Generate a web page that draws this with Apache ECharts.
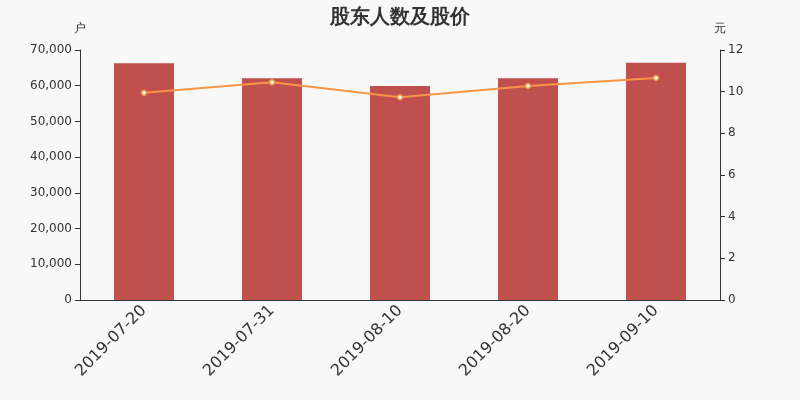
<!DOCTYPE html>
<html><head><meta charset="utf-8">
<script src="https://cdn.jsdelivr.net/npm/echarts@6/dist/echarts.min.js"></script>
<style>html,body{margin:0;padding:0;background:#f8f8f8;}#c{width:800px;height:400px;}</style>
</head><body><div id="c"></div>
<script>
const categories = ['2019-07-20','2019-07-31','2019-08-10','2019-08-20','2019-09-10'];
const holders = [66300, 62100, 59900, 62100, 66400];
const prices = [9.95, 10.45, 9.73, 10.27, 10.66];

const chart = echarts.init(document.getElementById('c'));
const axisColor = '#333';
chart.setOption({
  backgroundColor: '#f8f8f8',
  animation: false,
  textStyle: { fontFamily: 'DejaVu Sans' },
  title: { text: '股东人数及股价', left: 'center', top: 3,
    textStyle: { fontSize: 19.5, fontWeight: 'bold', color: '#333', fontFamily: 'DejaVu Sans' } },
  grid: { left: 80, right: 80, top: 50, bottom: 100 },
  xAxis: {
    type: 'category', data: categories,
    axisLine: { lineStyle: { color: axisColor } },
    axisTick: { alignWithLabel: false },
    axisLabel: { rotate: 45, fontSize: 16, color: '#333', interval: 0, margin: 8 }
  },
  yAxis: [
    { type: 'value', name: '户', min: 0, max: 70000, interval: 10000,
      nameTextStyle: { color: '#333', align: 'center', fontSize: 12 }, nameGap: 15,
      axisLine: { show: true, lineStyle: { color: axisColor } }, axisTick: { show: true },
      splitLine: { show: false },
      axisLabel: { color: '#333', fontSize: 12, formatter: v => v.toLocaleString('en-US') } },
    { type: 'value', name: '元', min: 0, max: 12, interval: 2,
      nameTextStyle: { color: '#333', align: 'center', fontSize: 12 }, nameGap: 15,
      axisLine: { show: true, lineStyle: { color: axisColor } }, axisTick: { show: true },
      splitLine: { show: false },
      axisLabel: { color: '#333', fontSize: 12 } }
  ],
  series: [
    { type: 'bar', data: holders, barWidth: 60, itemStyle: { color: '#c0504d' } },
    { type: 'line', yAxisIndex: 1, data: prices, symbol: 'circle', symbolSize: 5,
      lineStyle: { color: '#f79646', width: 2 },
      itemStyle: { color: '#fff', borderColor: '#f79646', borderWidth: 1.5 } }
  ]
});
</script></body></html>
